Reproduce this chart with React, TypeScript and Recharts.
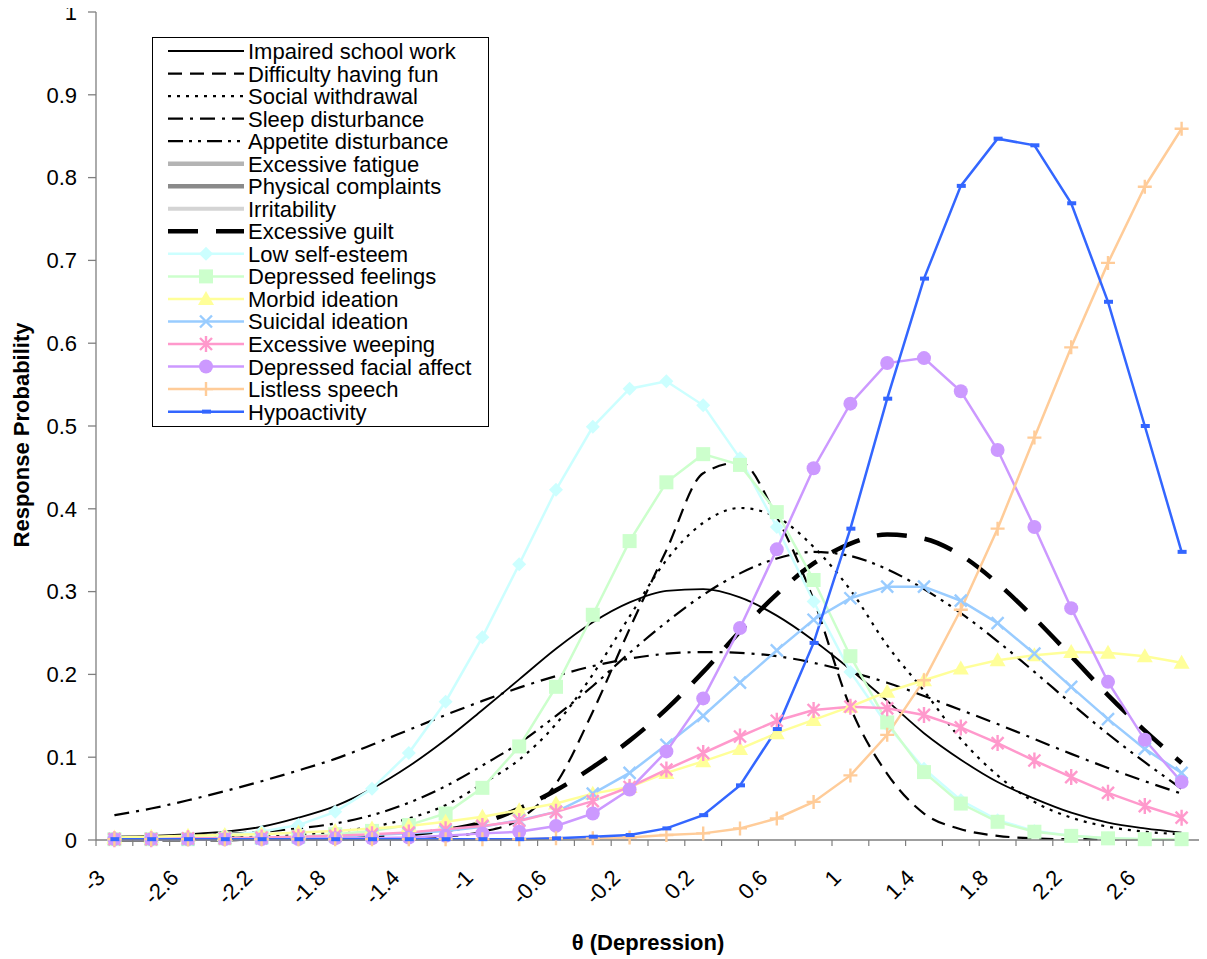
import React from "react";
import { LineChart, Line, XAxis, YAxis, Legend } from "recharts";

// theta values (category axis)
const theta = [
  -3, -2.8, -2.6, -2.4, -2.2, -2, -1.8, -1.6, -1.4, -1.2, -1, -0.8, -0.6, -0.4, -0.2,
  0, 0.2, 0.4, 0.6, 0.8, 1, 1.2, 1.4, 1.6, 1.8, 2, 2.2, 2.4, 2.6, 2.8,
];

const yTicks = [0, 0.1, 0.2, 0.3, 0.4, 0.5, 0.6, 0.7, 0.8, 0.9, 1];

// response probabilities
const impaired = [0.004, 0.005, 0.007, 0.010, 0.016, 0.027, 0.041, 0.062, 0.089, 0.121, 0.157, 0.194, 0.231, 0.263, 0.287, 0.301, 0.303, 0.293, 0.271, 0.241, 0.206, 0.168, 0.129, 0.097, 0.070, 0.050, 0.033, 0.021, 0.014, 0.009];
const difficulty = [0.001, 0.001, 0.001, 0.001, 0.001, 0.001, 0.001, 0.001, 0.002, 0.004, 0.010, 0.025, 0.068, 0.155, 0.255, 0.350, 0.443, 0.456, 0.390, 0.290, 0.160, 0.080, 0.032, 0.013, 0.005, 0.002, 0.001, 0.001, 0.001, 0.001];
const social = [0.001, 0.001, 0.002, 0.003, 0.004, 0.006, 0.010, 0.016, 0.026, 0.042, 0.068, 0.097, 0.140, 0.200, 0.270, 0.338, 0.383, 0.401, 0.390, 0.354, 0.302, 0.235, 0.180, 0.122, 0.078, 0.046, 0.027, 0.016, 0.010, 0.007];
const sleep = [0.030, 0.038, 0.048, 0.059, 0.071, 0.084, 0.098, 0.115, 0.133, 0.151, 0.168, 0.184, 0.198, 0.210, 0.219, 0.225, 0.227, 0.226, 0.222, 0.214, 0.203, 0.190, 0.174, 0.157, 0.140, 0.122, 0.104, 0.087, 0.071, 0.056];
const appetite = [0.002, 0.003, 0.005, 0.007, 0.010, 0.014, 0.020, 0.030, 0.045, 0.065, 0.090, 0.117, 0.150, 0.186, 0.226, 0.263, 0.296, 0.322, 0.340, 0.348, 0.343, 0.327, 0.303, 0.274, 0.240, 0.203, 0.165, 0.128, 0.094, 0.062];
const guilt = [0.001, 0.001, 0.001, 0.001, 0.002, 0.002, 0.003, 0.004, 0.007, 0.012, 0.021, 0.038, 0.060, 0.088, 0.120, 0.158, 0.203, 0.252, 0.297, 0.334, 0.358, 0.369, 0.364, 0.344, 0.310, 0.268, 0.222, 0.175, 0.132, 0.093];
const selfEsteem = [0.002, 0.003, 0.004, 0.006, 0.010, 0.018, 0.034, 0.062, 0.105, 0.167, 0.245, 0.333, 0.423, 0.499, 0.545, 0.554, 0.525, 0.461, 0.378, 0.288, 0.203, 0.139, 0.086, 0.048, 0.024, 0.011, 0.005, 0.002, 0.001, 0.001];
const feelings = [0.001, 0.001, 0.001, 0.002, 0.003, 0.004, 0.007, 0.011, 0.018, 0.032, 0.063, 0.113, 0.185, 0.272, 0.361, 0.432, 0.466, 0.453, 0.396, 0.314, 0.222, 0.142, 0.082, 0.044, 0.022, 0.010, 0.005, 0.002, 0.001, 0.001];
const morbid = [0.003, 0.004, 0.005, 0.006, 0.007, 0.009, 0.011, 0.014, 0.017, 0.022, 0.028, 0.036, 0.044, 0.056, 0.064, 0.081, 0.095, 0.110, 0.129, 0.145, 0.161, 0.179, 0.193, 0.207, 0.217, 0.223, 0.227, 0.226, 0.222, 0.214];
const suicidal = [0.001, 0.001, 0.001, 0.002, 0.002, 0.003, 0.004, 0.006, 0.008, 0.011, 0.016, 0.024, 0.034, 0.056, 0.081, 0.115, 0.150, 0.190, 0.229, 0.266, 0.292, 0.306, 0.306, 0.289, 0.262, 0.225, 0.185, 0.146, 0.110, 0.081];
const weeping = [0.001, 0.001, 0.002, 0.002, 0.003, 0.004, 0.005, 0.007, 0.009, 0.013, 0.017, 0.023, 0.034, 0.047, 0.064, 0.085, 0.105, 0.125, 0.144, 0.157, 0.161, 0.159, 0.151, 0.136, 0.117, 0.096, 0.076, 0.057, 0.041, 0.027];
const facial = [0.001, 0.001, 0.001, 0.001, 0.001, 0.001, 0.002, 0.002, 0.003, 0.005, 0.008, 0.010, 0.017, 0.032, 0.061, 0.107, 0.171, 0.256, 0.351, 0.449, 0.527, 0.576, 0.582, 0.542, 0.471, 0.378, 0.280, 0.191, 0.121, 0.070];
const listless = [0.001, 0.001, 0.001, 0.001, 0.001, 0.001, 0.001, 0.001, 0.001, 0.001, 0.001, 0.001, 0.002, 0.002, 0.003, 0.006, 0.008, 0.014, 0.026, 0.046, 0.078, 0.127, 0.193, 0.278, 0.376, 0.486, 0.595, 0.697, 0.789, 0.859];
const hypo = [0.001, 0.001, 0.001, 0.001, 0.001, 0.001, 0.001, 0.001, 0.001, 0.001, 0.001, 0.001, 0.002, 0.004, 0.006, 0.014, 0.030, 0.066, 0.134, 0.238, 0.376, 0.533, 0.678, 0.790, 0.847, 0.839, 0.769, 0.650, 0.500, 0.348];

type Series = {
  key: string;
  name: string;
  values: number[] | null;
  color: string;
  width: number;
  dash?: string;
  marker?: string;
};

const series: Series[] = [
  { key: "impaired", name: "Impaired school work", values: impaired, color: "#000", width: 1.8 },
  { key: "difficulty", name: "Difficulty having fun", values: difficulty, color: "#000", width: 2.2, dash: "14 8" },
  { key: "social", name: "Social withdrawal", values: social, color: "#000", width: 2.2, dash: "3 6" },
  { key: "sleep", name: "Sleep disturbance", values: sleep, color: "#000", width: 2.2, dash: "15 7 3 7" },
  { key: "appetite", name: "Appetite disturbance", values: appetite, color: "#000", width: 2.2, dash: "15 6 3 6 3 6" },
  { key: "fatigue", name: "Excessive fatigue", values: null, color: "#b4b4b4", width: 4.5 },
  { key: "physical", name: "Physical complaints", values: null, color: "#8a8a8a", width: 4.5 },
  { key: "irritability", name: "Irritability", values: null, color: "#d4d4d4", width: 4 },
  { key: "guilt", name: "Excessive guilt", values: guilt, color: "#000", width: 4.5, dash: "30 18" },
  { key: "selfEsteem", name: "Low self-esteem", values: selfEsteem, color: "#ccffff", width: 2.5, marker: "diamond" },
  { key: "feelings", name: "Depressed feelings", values: feelings, color: "#ccffcc", width: 2.5, marker: "square" },
  { key: "morbid", name: "Morbid ideation", values: morbid, color: "#ffff99", width: 2.5, marker: "triangle" },
  { key: "suicidal", name: "Suicidal ideation", values: suicidal, color: "#99ccff", width: 2.5, marker: "x" },
  { key: "weeping", name: "Excessive weeping", values: weeping, color: "#ff99cc", width: 2.5, marker: "star" },
  { key: "facial", name: "Depressed facial affect", values: facial, color: "#cc99ff", width: 2.5, marker: "circle" },
  { key: "listless", name: "Listless speech", values: listless, color: "#ffcc99", width: 2.5, marker: "plus" },
  { key: "hypo", name: "Hypoactivity", values: hypo, color: "#3366ff", width: 2.5, marker: "dash" },
];

const rows = theta.map((t, i) => {
  const row: Record<string, number> = { theta: t };
  series.forEach((s) => {
    if (s.values) row[s.key] = s.values[i];
  });
  return row;
});

const FONT = "'Liberation Sans', Arial, sans-serif";
const AXIS = "#7f7f7f";
const HALF_BAND = 18.4;

function Marker({ shape, x, y, color }: { shape: string; x: number; y: number; color: string }) {
  switch (shape) {
    case "diamond":
      return <polygon points={`${x},${y - 7} ${x + 7},${y} ${x},${y + 7} ${x - 7},${y}`} fill={color} />;
    case "square":
      return <rect x={x - 7} y={y - 7} width={14} height={14} fill={color} />;
    case "triangle":
      return <polygon points={`${x},${y - 8} ${x + 8},${y + 6} ${x - 8},${y + 6}`} fill={color} />;
    case "x":
      return (
        <path d={`M${x - 6},${y - 6}L${x + 6},${y + 6}M${x - 6},${y + 6}L${x + 6},${y - 6}`} stroke={color} strokeWidth={2.4} />
      );
    case "star":
      return (
        <path
          d={`M${x - 6},${y - 6}L${x + 6},${y + 6}M${x - 6},${y + 6}L${x + 6},${y - 6}M${x},${y - 8}L${x},${y + 8}`}
          stroke={color}
          strokeWidth={2.4}
        />
      );
    case "circle":
      return <circle cx={x} cy={y} r={7} fill={color} />;
    case "plus":
      return <path d={`M${x - 7},${y}L${x + 7},${y}M${x},${y - 7}L${x},${y + 7}`} stroke={color} strokeWidth={2.4} />;
    case "dash":
      return <rect x={x - 4} y={y - 2} width={9} height={4} fill={color} />;
    default:
      return null;
  }
}

const makeDot = (s: Series) => (props: any) => {
  const { cx, cy, index } = props;
  if (cx == null || cy == null) return <g key={`${s.key}-${index}`} />;
  return (
    <g key={`${s.key}-${index}`}>
      <Marker shape={s.marker!} x={cx} y={cy} color={s.color} />
    </g>
  );
};

const XTick = (props: any) => {
  const { x, y, payload, index } = props;
  const last = index === theta.length - 1;
  const lx = x - 8;
  const ly = y + 39;
  return (
    <g>
      <line x1={x - HALF_BAND} x2={x - HALF_BAND} y1={y} y2={y + 6} stroke={AXIS} strokeWidth={1.2} />
      {last && <line x1={x + HALF_BAND} x2={x + HALF_BAND} y1={y} y2={y + 6} stroke={AXIS} strokeWidth={1.2} />}
      {index % 2 === 0 && (
        <text x={lx} y={ly} textAnchor="end" fontSize={22} fontFamily={FONT} fill="#000" transform={`rotate(-45, ${lx}, ${ly})`}>
          {String(payload.value)}
        </text>
      )}
    </g>
  );
};

const XTitle = (props: any) => {
  const vb = props.viewBox || { x: 96, y: 840, width: 1104 };
  return (
    <text x={vb.x + vb.width / 2} y={vb.y + 110} textAnchor="middle" fontSize={22} fontWeight="bold" fontFamily={FONT} fill="#000">
      θ (Depression)
    </text>
  );
};

const YTitle = (props: any) => {
  const vb = props.viewBox || { y: 12, height: 828 };
  const cy = vb.y + vb.height / 2 + 9;
  return (
    <text x={21} y={cy} textAnchor="middle" fontSize={22} fontWeight="bold" fontFamily={FONT} fill="#000" transform={`rotate(-90, 21, ${cy})`}>
      Response Probability
    </text>
  );
};

const LegendBox = () => {
  const rowH = 22.54;
  return (
    <svg width={338} height={391} style={{ display: "block" }}>
      <rect x={0.5} y={0.5} width={336} height={389} fill="#fff" stroke="#000" strokeWidth={1} />
      {series.map((s, k) => {
        const cy = 14 + rowH * k;
        return (
          <g key={s.key}>
            <line x1={16} x2={92} y1={cy} y2={cy} stroke={s.color} strokeWidth={s.width} strokeDasharray={s.dash} />
            {s.marker && <Marker shape={s.marker} x={54} y={cy} color={s.color} />}
            <text x={96} y={cy + 8} fontSize={22} fontFamily={FONT} fill="#000">
              {s.name}
            </text>
          </g>
        );
      })}
    </svg>
  );
};

export default function App() {
  return (
    <div style={{ marginTop: -8 }}>
      <LineChart width={1199} height={959} data={rows} margin={{ top: 12, right: 7, left: 8, bottom: 0 }}>
        <XAxis
          dataKey="theta"
          type="category"
          interval={0}
          height={119}
          padding={{ left: HALF_BAND, right: HALF_BAND }}
          tickSize={0}
          tickMargin={0}
          tickLine={false}
          axisLine={{ stroke: AXIS, strokeWidth: 1.3 }}
          tick={<XTick />}
          label={<XTitle />}
        />
        <YAxis
          type="number"
          domain={[0, 1]}
          ticks={yTicks}
          interval={0}
          width={80}
          tickSize={8}
          tickMargin={11}
          axisLine={{ stroke: AXIS, strokeWidth: 1.3 }}
          tickLine={{ stroke: AXIS, strokeWidth: 1.3 }}
          tick={{ fill: "#000", fontSize: 22, fontFamily: FONT }}
          label={<YTitle />}
        />
        <Legend
          layout="vertical"
          align="center"
          verticalAlign="middle"
          content={<LegendBox />}
          wrapperStyle={{ left: 144, top: 37, width: 338, height: 391 }}
        />
        {series
          .filter((s) => s.values)
          .map((s) => (
            <Line
              key={s.key}
              dataKey={s.key}
              name={s.name}
              type={s.marker ? "linear" : "monotone"}
              stroke={s.color}
              strokeWidth={s.width}
              strokeDasharray={s.dash}
              dot={s.marker ? makeDot(s) : false}
              activeDot={false}
              isAnimationActive={false}
            />
          ))}
      </LineChart>
    </div>
  );
}
